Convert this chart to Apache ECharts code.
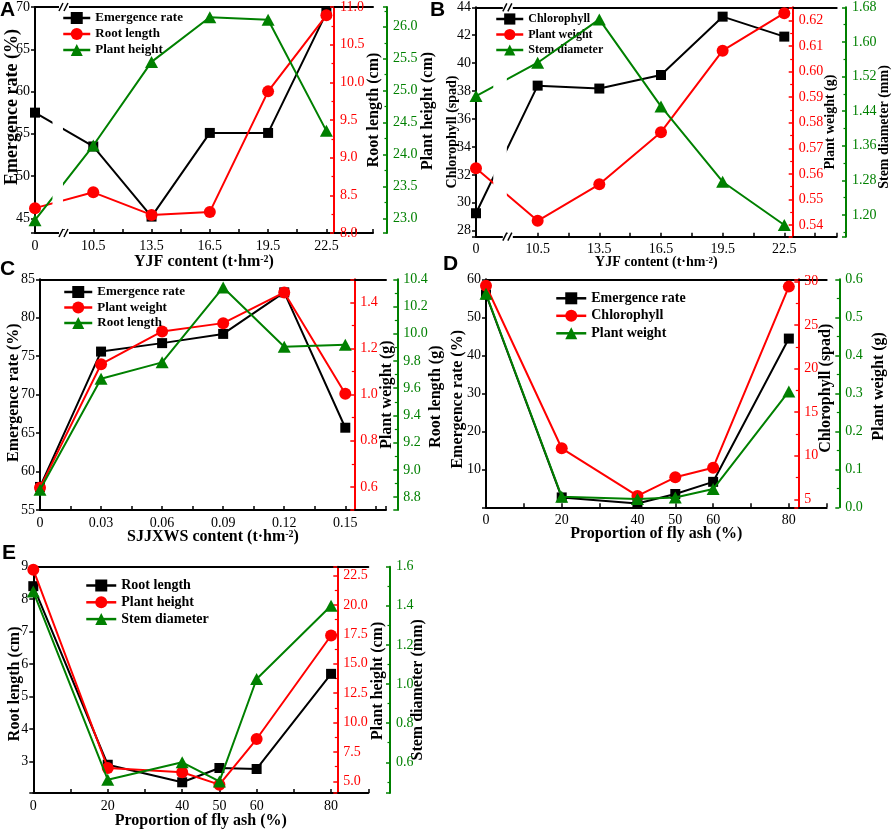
<!DOCTYPE html>
<html><head><meta charset="utf-8">
<script src="https://cdn.jsdelivr.net/npm/echarts@6/dist/echarts.min.js"></script>
<style>html,body{margin:0;padding:0;background:#fff}#c{width:892px;height:830px}</style>
</head><body><div id="c"></div>
<script>
// ---------- data ----------
const catAB = ['0','10.5','13.5','16.5','19.5','22.5'];
const posAB = [0,1,2,3,4,5];
const aEmergence = [57.5, 53.5, 45.2, 55.1, 55.1, 69.3];
const aRootLength = [8.33, 8.54, 8.24, 8.28, 9.88, 10.89];
const aPlantHeight = [22.97, 24.14, 25.45, 26.15, 26.11, 24.37];

const bChlorophyll = [29.25, 38.39, 38.18, 39.15, 43.33, 41.9];
const bPlantWeight = [0.5622, 0.5416, 0.5559, 0.5763, 0.6082, 0.6229];
const bStemDiameter = [1.475, 1.552, 1.652, 1.451, 1.277, 1.177];

const xC = [0, 0.03, 0.06, 0.09, 0.12, 0.15];
const catC = ['0','0.03','0.06','0.09','0.12','0.15'];
const cEmergence = [58.0, 75.6, 76.7, 77.9, 83.3, 65.7];
const cPlantWeight = [0.596, 1.132, 1.274, 1.31, 1.443, 1.004];
const cRootLength = [8.854, 9.67, 9.79, 10.34, 9.905, 9.92];

const xDE = [0, 20, 40, 50, 60, 80];
const catDE = ['0','20','40','50','60','80'];
const dEmergence = [56, 2.6, 1.0, 3.5, 6.7, 44.4];
const dChlorophyll = [29.5, 10.85, 5.38, 7.52, 8.62, 29.4];
const dPlantWeight = [0.562, 0.028, 0.022, 0.026, 0.048, 0.305];

const eRootLength = [8.4, 2.9, 2.36, 2.8, 2.77, 5.7];
const ePlantHeight = [23.0, 6.14, 5.77, 4.72, 8.6, 17.4];
const eStemDiameter = [1.473, 0.511, 0.6, 0.502, 1.026, 1.4];

// ---------- styling / layout ----------
const SERIF = 'Liberation Serif';
const BLACK = '#000000', RED = '#ff0000', GREEN = '#008000';
const grids = [
  {left:35, top:7, width:338, height:226},
  {left:476, top:7.3, width:362, height:229.4},
  {left:40, top:279.3, width:346, height:230.7},
  {left:486, top:279.3, width:340.7, height:228},
  {left:33.3, top:566.7, width:335, height:226.6}
];
const letters = [
  {t:'A', left:0, top:0}, {t:'B', left:430, top:0}, {t:'C', left:0, top:259},
  {t:'D', left:443, top:254}, {t:'E', left:2, top:543}
];
const xSpecs = [
  {vals:posAB, labels:catAB, min:0, max:5.8, interval:0.5, name:'YJF content (t·hm{sup|-2})', gap:21, size:16},
  {vals:posAB, labels:catAB, min:0, max:5.85, interval:0.5, name:'YJF content (t·hm{sup|-2})', gap:19, size:14},
  {vals:xC, labels:catC, min:0, max:0.17, interval:0.015, name:'SJJXWS content (t·hm{sup|-2})', gap:19, size:16},
  {vals:xDE, labels:catDE, min:0, max:90, interval:10, name:'Proportion of fly ash (%)', gap:19, size:16},
  {vals:xDE, labels:catDE, min:0, max:90, interval:10, name:'Proportion of fly ash (%)', gap:20, size:16}
];
// y axes: [left(black), red, green]
const ySpecs = [
  [ {min:43.26,max:70,step:5,dec:0,name:'Emergence rate (%)',gap:14,shift:-13,size:18},
    {min:8.0,max:11.0,step:0.5,dec:1,name:'Root length (cm)',gap:32,shift:-10,size:16,offset:-39},
    {min:22.77,max:26.31,step:0.5,dec:1,name:'Plant height (cm)',gap:33,shift:-9,size:16,offset:14} ],
  [ {min:27.57,max:44,step:2,dec:0,name:'Chlorophyll (spad)',gap:17,shift:10,size:14},
    {min:0.5354,max:0.6252,step:0.01,dec:2,name:'Plant weight (g)',gap:31,shift:0,size:14,offset:-44},
    {min:1.15,max:1.68,step:0.08,dec:2,name:'Stem diameter (mm)',gap:31,shift:5,size:14,offset:9.3} ],
  [ {min:55,max:85,step:5,dec:0,name:'Emergence rate (%)',gap:18,shift:-2,size:16},
    {min:0.5,max:1.5,step:0.2,dec:1,name:'Plant weight (g)',gap:25,shift:0,size:16,offset:-31.7},
    {min:8.706,max:10.4,step:0.2,dec:1,name:'Root length (g)',gap:31,shift:2,size:16,offset:11.3} ],
  [ {min:0,max:60,step:10,dec:0,name:'Emergence rate (%)',gap:20,shift:6,size:16,hideZero:true},
    {min:4.08,max:30.24,step:5,dec:0,name:'Chlorophyll (spad)',gap:20,shift:-5,size:16,offset:-28.4},
    {min:0,max:0.6,step:0.1,dec:1,name:'Plant weight (g)',gap:32,shift:-7,size:16,offset:12.6} ],
  [ {min:2.03,max:9,step:1,dec:0,name:'Root length (cm)',gap:10,shift:4,size:16},
    {min:4.01,max:23.25,step:2.5,dec:1,name:'Plant height (cm)',gap:33,shift:1,size:16,offset:-31},
    {min:0.443,max:1.6,step:0.2,dec:1,name:'Stem diameter (mm)',gap:20,shift:10,size:16,offset:21.7} ]
];
const legendSpecs = [
  {left:62, top:11.5, itemWidth:27, itemHeight:15, itemGap:3, fontSize:13},
  {left:495, top:13, itemWidth:27, itemHeight:14, itemGap:3.5, fontSize:12},
  {left:63, top:285.5, itemWidth:28, itemHeight:15, itemGap:2.5, fontSize:13},
  {left:555, top:291.3, itemWidth:30, itemHeight:15, itemGap:3.5, fontSize:14},
  {left:85, top:578.5, itemWidth:30, itemHeight:15, itemGap:2.8, fontSize:14}
];
const panels = [
  {x:posAB, series:[['Emergence rate',aEmergence,'rect',BLACK],['Root length',aRootLength,'circle',RED],['Plant height',aPlantHeight,'triangle',GREEN]]},
  {x:posAB, series:[['Chlorophyll',bChlorophyll,'rect',BLACK],['Plant weight',bPlantWeight,'circle',RED],['Stem diameter',bStemDiameter,'triangle',GREEN]]},
  {x:xC, series:[['Emergence rate',cEmergence,'rect',BLACK],['Plant weight',cPlantWeight,'circle',RED],['Root length',cRootLength,'triangle',GREEN]]},
  {x:xDE, series:[['Emergence rate',dEmergence,'rect',BLACK],['Chlorophyll',dChlorophyll,'circle',RED],['Plant weight',dPlantWeight,'triangle',GREEN]]},
  {x:xDE, series:[['Root length',eRootLength,'rect',BLACK],['Plant height',ePlantHeight,'circle',RED],['Stem diameter',eStemDiameter,'triangle',GREEN]]}
];
const PANEL_IDS = ['A','B','C','D','E'];
const axisColors = [BLACK, RED, GREEN];
const symSizes = {rect:10, circle:12, triangle:[13,12]};

// ---------- build option ----------
const xAxis = [], yAxis = [], series = [], legend = [], title = [];
grids.forEach((g, gi) => {
  const xs = xSpecs[gi];
  xAxis.push({
    type:'value', gridIndex:gi, position:'bottom', min:xs.min, max:xs.max, interval:xs.interval,
    axisLine:{show:true, onZero:false, lineStyle:{color:BLACK, width:2}},
    axisTick:{show:true, inside:true, length:4, lineStyle:{color:BLACK, width:1.5}},
    splitLine:{show:false},
    axisLabel:{show:true, margin:6, color:BLACK, fontFamily:SERIF, fontSize:14,
      showMinLabel:true, showMaxLabel:true,
      formatter:(v) => { const i = xs.vals.findIndex(c => Math.abs(c - v) < 1e-7); return i < 0 ? '' : xs.labels[i]; }},
    name:xs.name, nameLocation:'middle', nameGap:xs.gap, nameMoveOverlap:false,
    nameTextStyle:{fontFamily:SERIF, fontWeight:'bold', fontSize:xs.size, color:BLACK,
      rich:{sup:{fontFamily:SERIF, fontWeight:'bold', fontSize:Math.round(xs.size*0.62), color:BLACK, verticalAlign:'top', lineHeight:xs.size*0.6}}}
  });
  xAxis.push({
    type:'value', gridIndex:gi, position:'top', min:xs.min, max:xs.max, interval:xs.interval,
    axisLine:{show:true, onZero:false, lineStyle:{color:BLACK, width:2}},
    axisTick:{show:false}, axisLabel:{show:false}, splitLine:{show:false}
  });
  ySpecs[gi].forEach((ys, k) => {
    const col = axisColors[k];
    const right = k > 0;
    const pad = ys.shift < 0 ? [0,0,0,-2*ys.shift] : [0,2*ys.shift,0,0];
    yAxis.push({
      type:'value', gridIndex:gi, position: right ? 'right' : 'left', offset: right ? ys.offset : 0,
      min:ys.min, max:ys.max, minInterval:ys.step, maxInterval:ys.step,
      axisLine:{show:true, onZero:false, lineStyle:{color:col, width:2}},
      axisTick:{show:true, inside:right, length:4, lineStyle:{color:col, width:1.5}},
      minorTick:{show:right, splitNumber:2, length:2.5, lineStyle:{color:col, width:1.2}},
      splitLine:{show:false}, minorSplitLine:{show:false},
      axisLabel:{show:true, margin:right ? 6 : 5, color:col, fontFamily:SERIF, fontSize:14,
        formatter:(v) => {
          const q = v / ys.step;
          if (Math.abs(q - Math.round(q)) > 1e-6) return '';
          if (ys.hideZero && Math.abs(v) < 1e-9) return '';
          return v.toFixed(ys.dec);
        }},
      name:ys.name, nameLocation:'middle', nameRotate:90, nameGap:ys.gap, nameMoveOverlap:false,
      nameTextStyle:{fontFamily:SERIF, fontWeight:'bold', fontSize:ys.size, color:BLACK, padding:pad}
    });
  });
  const p = panels[gi];
  const names = [];
  p.series.forEach((s, k) => {
    const nm = PANEL_IDS[gi] + '|' + s[0];
    names.push(nm);
    series.push({
      type:'line', name:nm, xAxisIndex:gi*2, yAxisIndex:gi*3 + k,
      data:p.x.map((x, i) => [x, s[1][i]]),
      symbol:s[2], symbolSize:symSizes[s[2]], showAllSymbol:true,
      lineStyle:{color:s[3], width:2}, itemStyle:{color:s[3], opacity:1},
      emphasis:{disabled:true}, z:2 + k
    });
  });
  const ls = legendSpecs[gi];
  legend.push({
    orient:'vertical', left:ls.left, top:ls.top, padding:0, itemWidth:ls.itemWidth, itemHeight:ls.itemHeight,
    itemGap:ls.itemGap, data:names, selectedMode:false,
    lineStyle:{width:2.5},
    formatter:(n) => n.split('|')[1],
    textStyle:{fontFamily:SERIF, fontWeight:'bold', fontSize:ls.fontSize, color:BLACK}
  });
  title.push({text:letters[gi].t, left:letters[gi].left, top:letters[gi].top, padding:0,
    textStyle:{fontFamily:'Liberation Sans', fontWeight:'bold', fontSize:21, color:BLACK}});
});

const chart = echarts.init(document.getElementById('c'), null, {renderer:'canvas'});
chart.setOption({
  animation:false, backgroundColor:'#ffffff',
  title, legend, tooltip:{show:false},
  grid:grids.map(g => ({left:g.left, top:g.top, width:g.width, height:g.height, containLabel:false, show:false})),
  xAxis, yAxis, series
});

// axis-break decoration for panels A and B (between first and second category)
const graphics = [];
[[0, 0.3, 0.48, 0.48], [1, 0.28, 0.5, 0.5]].forEach(([gi, from, to, at]) => {
  const g = grids[gi];
  const x0 = chart.convertToPixel({xAxisIndex:gi*2}, from);
  const x1 = chart.convertToPixel({xAxisIndex:gi*2}, to);
  const xm = chart.convertToPixel({xAxisIndex:gi*2}, at);
  graphics.push({type:'rect', z:50, silent:true, shape:{x:x0, y:g.top + 52, width:x1 - x0, height:g.height - 54}, style:{fill:'#ffffff'}});
  [g.top, g.top + g.height].forEach(y => {
    graphics.push({type:'rect', z:51, silent:true, shape:{x:xm - 4, y:y - 3, width:10, height:6}, style:{fill:'#ffffff'}});
    graphics.push({type:'line', z:52, silent:true, shape:{x1:xm - 4, y1:y + 4, x2:xm, y2:y - 4}, style:{stroke:BLACK, lineWidth:1.5}});
    graphics.push({type:'line', z:52, silent:true, shape:{x1:xm + 1, y1:y + 4, x2:xm + 5, y2:y - 4}, style:{stroke:BLACK, lineWidth:1.5}});
  });
});
chart.setOption({graphic:graphics});
</script>
</body></html>
